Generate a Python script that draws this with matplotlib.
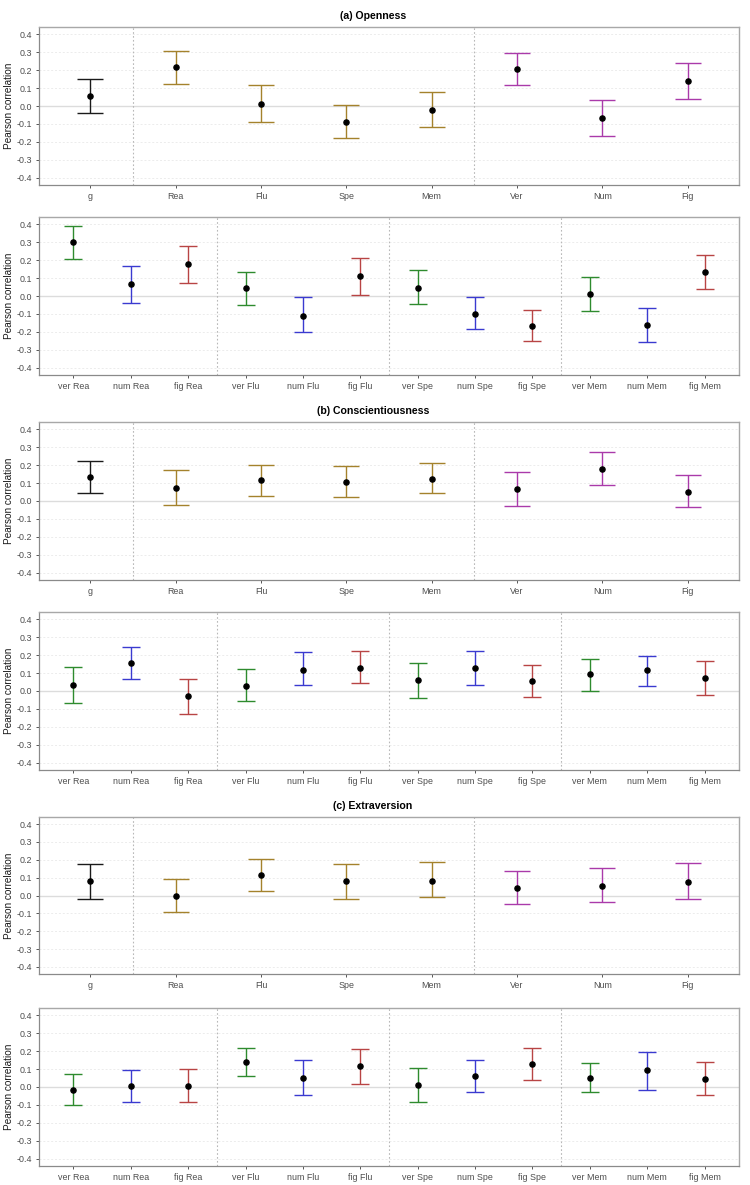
import matplotlib
matplotlib.use("Agg")
import matplotlib.pyplot as plt

plt.rcParams['font.family'] = ['Liberation Sans', 'DejaVu Sans']

# ---------------- data ----------------
cats_top = ["g", "Rea", "Flu", "Spe", "Mem", "Ver", "Num", "Fig"]
cats_bot = ["ver Rea", "num Rea", "fig Rea", "ver Flu", "num Flu", "fig Flu",
            "ver Spe", "num Spe", "fig Spe", "ver Mem", "num Mem", "fig Mem"]

titles = ["(a) Openness", "(b) Conscientiousness", "(c) Extraversion"]

# Openness
open_top_r  = [0.057, 0.217, 0.013, -0.087, -0.020, 0.206, -0.065, 0.141]
open_top_lo = [-0.041, 0.122, -0.089, -0.178, -0.117, 0.117, -0.167, 0.041]
open_top_hi = [0.152, 0.304, 0.115, 0.006, 0.080, 0.294, 0.033, 0.237]

open_bot_r  = [0.302, 0.065, 0.176, 0.043, -0.109, 0.109, 0.043, -0.098, -0.165, 0.011, -0.163, 0.131]
open_bot_lo = [0.206, -0.041, 0.074, -0.048, -0.200, 0.006, -0.044, -0.185, -0.252, -0.085, -0.254, 0.041]
open_bot_hi = [0.391, 0.167, 0.276, 0.131, -0.004, 0.213, 0.143, -0.006, -0.078, 0.107, -0.069, 0.228]

# Conscientiousness
cons_top_r  = [0.134, 0.070, 0.115, 0.108, 0.124, 0.069, 0.178, 0.052]
cons_top_lo = [0.046, -0.024, 0.026, 0.020, 0.043, -0.030, 0.087, -0.035]
cons_top_hi = [0.221, 0.171, 0.202, 0.197, 0.212, 0.163, 0.273, 0.143]

cons_bot_r  = [0.032, 0.156, -0.028, 0.028, 0.119, 0.128, 0.061, 0.126, 0.056, 0.093, 0.117, 0.074]
cons_bot_lo = [-0.067, 0.067, -0.128, -0.054, 0.032, 0.043, -0.039, 0.033, -0.032, 0.002, 0.030, -0.024]
cons_bot_hi = [0.132, 0.243, 0.065, 0.121, 0.215, 0.223, 0.158, 0.223, 0.145, 0.178, 0.197, 0.167]

# Extraversion
extr_top_r  = [0.080, -0.004, 0.115, 0.080, 0.083, 0.041, 0.054, 0.076]
extr_top_lo = [-0.017, -0.091, 0.028, -0.020, -0.011, -0.050, -0.039, -0.019]
extr_top_hi = [0.178, 0.095, 0.204, 0.178, 0.187, 0.139, 0.154, 0.184]

extr_bot_r  = [-0.015, 0.004, 0.007, 0.139, 0.048, 0.115, 0.013, 0.063, 0.130, 0.048, 0.093, 0.046]
extr_bot_lo = [-0.102, -0.085, -0.083, 0.063, -0.043, 0.017, -0.083, -0.028, 0.039, -0.030, -0.019, -0.046]
extr_bot_hi = [0.074, 0.093, 0.098, 0.219, 0.148, 0.209, 0.106, 0.148, 0.220, 0.133, 0.196, 0.141]

# colours
C_G, C_GOLD, C_PURP = "#1a1a1a", "#A4822C", "#AA3AAA"
C_VER, C_NUM, C_FIG = "#2E8B2E", "#3A3AD0", "#B84444"
colors_top = [C_G, C_GOLD, C_GOLD, C_GOLD, C_GOLD, C_PURP, C_PURP, C_PURP]
colors_bot = [C_VER, C_NUM, C_FIG] * 4
sep_top = [1.5, 5.5]
sep_bot = [3.5, 6.5, 9.5]

# ---------------- figure ----------------
W, H = 750, 1185
fig = plt.figure(figsize=(W / 100, H / 100), dpi=100)

def rect(top_px, bot_px):
    return [39 / W, (H - bot_px) / H, 700 / W, (bot_px - top_px) / H]

panel_px = [(27, 185), (217, 375), (422, 580), (612, 770), (817, 974), (1008, 1166)]
title_px = [16, 411, 806]

panels = [
    (cats_top, open_top_r, open_top_lo, open_top_hi, colors_top, sep_top),
    (cats_bot, open_bot_r, open_bot_lo, open_bot_hi, colors_bot, sep_bot),
    (cats_top, cons_top_r, cons_top_lo, cons_top_hi, colors_top, sep_top),
    (cats_bot, cons_bot_r, cons_bot_lo, cons_bot_hi, colors_bot, sep_bot),
    (cats_top, extr_top_r, extr_top_lo, extr_top_hi, colors_top, sep_top),
    (cats_bot, extr_bot_r, extr_bot_lo, extr_bot_hi, colors_bot, sep_bot),
]

yticks = [-0.4, -0.3, -0.2, -0.1, 0.0, 0.1, 0.2, 0.3, 0.4]

for i, (cats, r, lo, hi, cols, seps) in enumerate(panels):
    ax = fig.add_axes(rect(*panel_px[i]))
    n = len(cats)
    xs = list(range(1, n + 1))
    capsize = 9.2 if n == 8 else 6.2
    # gridlines
    for yt in yticks:
        if yt == 0:
            ax.axhline(0, color="#dcdcdc", lw=1.0, zorder=1)
        else:
            ax.axhline(yt, color="#ececec", lw=0.7, ls=(0, (2, 2)), zorder=1)
    for s in seps:
        ax.axvline(s, color="#b8b8b8", lw=0.8, ls=(0, (1.5, 2)), zorder=1)
    for x, rv, l, h, c in zip(xs, r, lo, hi, cols):
        ax.errorbar([x], [rv], yerr=[[rv - l], [h - rv]], fmt="none",
                    ecolor=c, elinewidth=1.0, capsize=capsize, capthick=1.0, zorder=2)
    ax.plot(xs, r, "o", color="black", ms=3.7, zorder=3, ls="none")
    ax.set_xlim(0.4, n + 0.6)
    ax.set_ylim(-0.44, 0.44)
    ax.set_xticks(xs)
    ax.set_xticklabels(cats)
    ax.set_yticks(yticks)
    ax.set_yticklabels([f"{v:.1f}" for v in yticks])
    ax.tick_params(axis="both", labelsize=6.4, colors="#555555", length=2.5,
                   width=0.7, pad=2.5)
    for lab in ax.get_xticklabels() + ax.get_yticklabels():
        lab.set_color("#4d4d4d")
    ax.set_ylabel("Pearson correlation", fontsize=7.2, color="#1a1a1a", labelpad=1.5)
    for side in ["left", "bottom"]:
        ax.spines[side].set_color("#8a8a8a")
        ax.spines[side].set_linewidth(0.9)
    for side in ["top", "right"]:
        ax.spines[side].set_color("#a8a8a8")
        ax.spines[side].set_linewidth(1.0)
    ax.set_facecolor("white")

for t, ypx in zip(titles, title_px):
    fig.text(0.497, (H - ypx) / H, t, ha="center", va="center",
             fontsize=7.6, fontweight="bold", color="black")

fig.savefig("out.png", dpi=100)
